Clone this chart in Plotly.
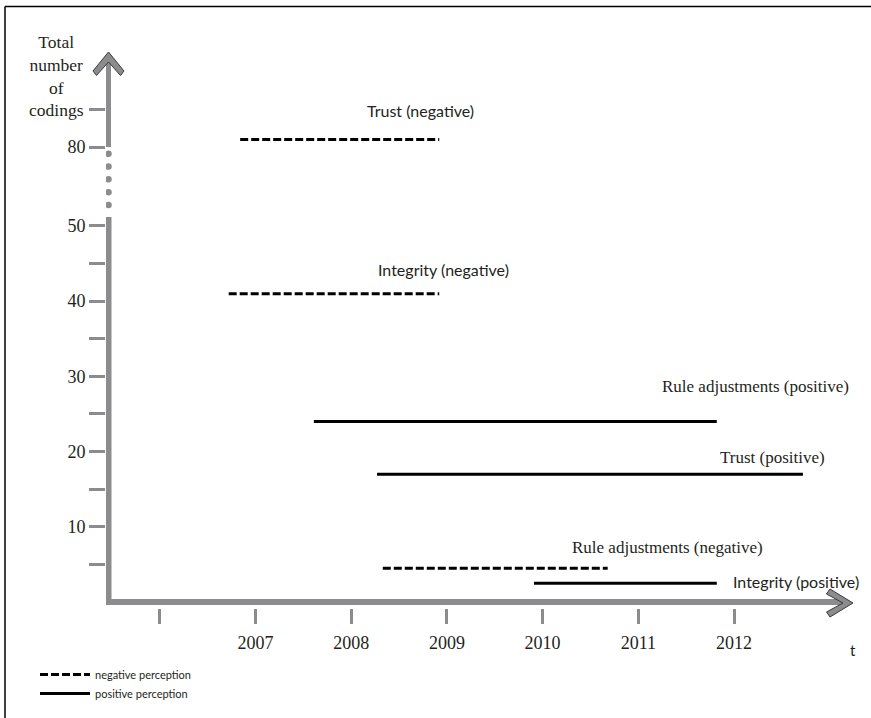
import numpy as np
import plotly.graph_objects as go

# ---------------- data ----------------
series_names = ["Trust (negative)", "Integrity (negative)", "Rule adjustments (positive)",
                "Trust (positive)", "Rule adjustments (negative)", "Integrity (positive)"]
perception = ["negative", "negative", "positive", "positive", "negative", "positive"]
start_year = [2006.84, 2006.72, 2007.61, 2008.27, 2008.33, 2009.91]
end_year = [2008.92, 2008.92, 2011.82, 2012.72, 2010.68, 2011.82]
codings = [81, 41, 24, 17, 4.5, 2.5]

year_ticks = [2006, 2007, 2008, 2009, 2010, 2011, 2012]
year_labels = ["", "2007", "2008", "2009", "2010", "2011", "2012"]
coding_ticks = [5, 10, 15, 20, 25, 30, 35, 40, 45, 50, 80, 85]
coding_labels = ["", "10", "", "20", "", "30", "", "40", "", "50", "80", ""]

legend_names = {"negative": "negative perception", "positive": "positive perception"}

# ---------------- layout / style ----------------
W, H = 871, 718
L, R, T, B = 106, 866, 30, 608          # plot area in px
X_RANGE = [2005.438, 2013.379]
Y_RANGE = [-0.798, 76.06]
BREAK_LO, BREAK_HI, BREAK_DISPLAY = 50, 80, 10.5
GRAY = "#8c8c8f"
INK = "#231f20"
SERIF = "Liberation Serif, Times New Roman, serif"
SANS = "Lato, Open Sans, sans-serif"

label_font = [SANS, SANS, SERIF, SERIF, SERIF, SANS]
label_size = [16, 16, 17, 17, 17, 16]
label_x = [2008.72, 2008.96, 2012.22, 2012.40, 2011.30, None]
label_yshift = [29, 24, 35, 17, 21, 2]


def disp(v):
    """broken y-axis: values above the break are shifted down"""
    v = np.asarray(v, dtype=float)
    return np.where(v <= BREAK_LO, v, v - (BREAK_HI - BREAK_LO) + BREAK_DISPLAY)


def px2x(px):
    return X_RANGE[0] + (px - L) / (R - L) * (X_RANGE[1] - X_RANGE[0])


def py2y(py):
    return Y_RANGE[1] - (py - T) / (B - T) * (Y_RANGE[1] - Y_RANGE[0])


def pxp(px):
    return (px - L) / (R - L)


def pyp(py):
    return (B - py) / (B - T)


fig = go.Figure()

shown = set()
for name, per, x0, x1, v in zip(series_names, perception, start_year, end_year, codings):
    yv = float(disp(v))
    fig.add_trace(go.Scatter(
        x=[x0, x1], y=[yv, yv], mode="lines", name=legend_names[per],
        legendgroup=per, showlegend=per not in shown,
        line=dict(color="black", width=3, dash="8px,3px" if per == "negative" else "solid"),
        hovertext=name, hoverinfo="text"))
    shown.add(per)

# axis position
axis_x = px2x(108.5)

# dots of the axis break
dot_y = np.linspace(float(disp(BREAK_LO)) + 2.8, float(disp(BREAK_HI)) - 0.9, 5)
fig.add_trace(go.Scatter(x=[axis_x] * 5, y=dot_y, mode="markers", showlegend=False,
                         hoverinfo="skip", marker=dict(size=6.5, color=GRAY)))

shapes = []
# x axis shaft
shapes.append(dict(type="line", xref="x", yref="y", x0=px2x(105.5), x1=px2x(846),
                   y0=0, y1=0, line=dict(color=GRAY, width=6)))
# y axis lower shaft
shapes.append(dict(type="line", xref="x", yref="y", x0=axis_x, x1=axis_x,
                   y0=py2y(605), y1=float(disp(BREAK_LO)) + 1.2, line=dict(color=GRAY, width=6)))
# y axis upper shaft
shapes.append(dict(type="line", xref="x", yref="y", x0=axis_x, x1=axis_x,
                   y0=float(disp(BREAK_HI)), y1=py2y(60), line=dict(color=GRAY, width=5)))


def poly(pts):
    return "M " + " L ".join(f"{pxp(a):.5f},{pyp(b):.5f}" for a, b in pts) + " Z"


# arrow heads (chevrons)
shapes.append(dict(type="path", xref="paper", yref="paper",
                   path=poly([(108.5, 52), (93, 71), (96.5, 75.5), (108.5, 62),
                              (120.5, 75.5), (124, 71)]),
                   fillcolor=GRAY, line=dict(color="#3a3a3a", width=1)))
shapes.append(dict(type="path", xref="paper", yref="paper",
                   path=poly([(853, 603), (830, 589), (826.5, 594), (843, 603),
                              (826.5, 612), (830, 617)]),
                   fillcolor=GRAY, line=dict(color="#3a3a3a", width=1)))
# outer frame (left and top edges visible)
shapes.append(dict(type="line", xref="paper", yref="paper", x0=pxp(5), x1=pxp(5),
                   y0=pyp(718), y1=pyp(6.5), line=dict(color="black", width=1.5), layer="below"))
shapes.append(dict(type="line", xref="paper", yref="paper", x0=pxp(5), x1=pxp(871),
                   y0=pyp(6.5), y1=pyp(6.5), line=dict(color="black", width=1.5), layer="below"))

annotations = []
for i, (name, x0, x1, v) in enumerate(zip(series_names, start_year, end_year, codings)):
    yv = float(disp(v))
    font = dict(family=label_font[i], size=label_size[i], color=INK)
    if label_x[i] is None:
        annotations.append(dict(x=x1, y=yv, xref="x", yref="y", text=name, showarrow=False,
                                xanchor="left", yanchor="middle", xshift=14,
                                yshift=label_yshift[i], font=font))
    else:
        annotations.append(dict(x=label_x[i], y=yv, xref="x", yref="y", text=name,
                                showarrow=False, xanchor="center", yanchor="middle",
                                yshift=label_yshift[i], font=font))

annotations.append(dict(x=pxp(56), y=pyp(76), xref="paper", yref="paper",
                        text="Total<br>number<br>of<br>codings", showarrow=False,
                        xanchor="center", yanchor="middle", align="center",
                        font=dict(family=SERIF, size=17.5, color=INK)))
annotations.append(dict(x=pxp(853), y=pyp(650), xref="paper", yref="paper", text="t",
                        showarrow=False, xanchor="center", yanchor="middle",
                        font=dict(family=SANS, size=15, color=INK)))

fig.update_layout(
    width=W, height=H,
    margin=dict(l=L, r=W - R, t=T, b=H - B, pad=0),
    paper_bgcolor="white", plot_bgcolor="white",
    shapes=shapes, annotations=annotations,
    showlegend=True,
    legend=dict(x=pxp(35), y=pyp(660), xanchor="left", yanchor="top",
                font=dict(family=SANS, size=11, color=INK), bgcolor="rgba(0,0,0,0)",
                itemwidth=50, tracegroupgap=0),
    xaxis=dict(range=X_RANGE, tickvals=year_ticks, ticktext=year_labels,
               ticks="outside", ticklen=15, tickwidth=2.5, tickcolor=GRAY,
               showline=False, showgrid=False, zeroline=False, fixedrange=True,
               tickfont=dict(family=SERIF, size=18, color=INK), ticklabelstandoff=3),
    yaxis=dict(range=Y_RANGE, tickvals=[float(t) for t in disp(coding_ticks)],
               ticktext=coding_labels, ticks="outside", ticklen=16, tickwidth=3,
               tickcolor=GRAY, showline=False, showgrid=False, zeroline=False,
               fixedrange=True, tickfont=dict(family=SERIF, size=18, color=INK)),
)

fig.write_html("out.html", config={"displayModeBar": False},
               post_script="document.body.style.margin='0';document.body.style.overflow='hidden';")
